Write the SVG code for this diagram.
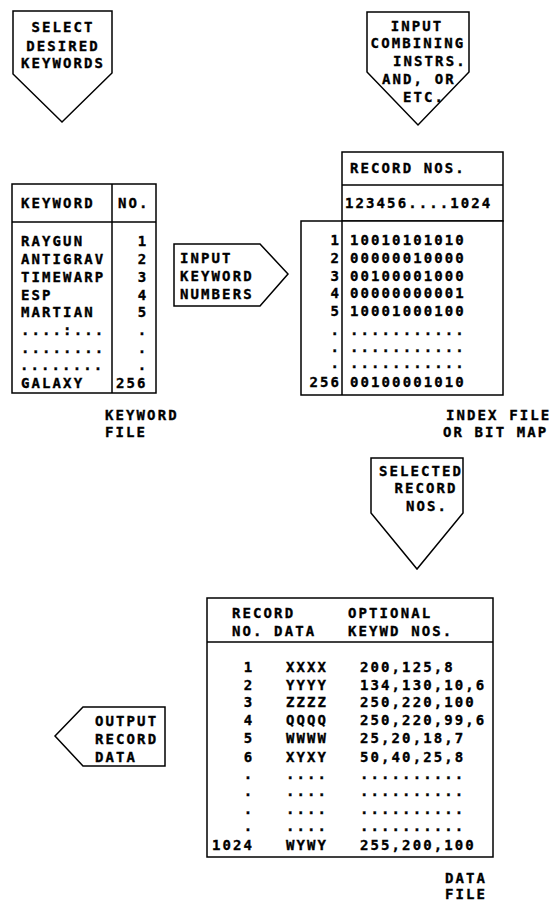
<svg xmlns="http://www.w3.org/2000/svg" width="551" height="903" viewBox="0 0 551 903">
<style>
.t{font-family:"DejaVu Sans Mono","Liberation Mono",monospace;font-weight:bold;font-size:14px;letter-spacing:2.1px;fill:#000;stroke:#000;stroke-width:0.35px}
.m{text-anchor:middle}
.e{text-anchor:end}
.s{fill:#fff;stroke:#000;stroke-width:1.5;stroke-linejoin:miter}
.l{fill:none;stroke:#000;stroke-width:1.5}
</style>
<rect width="551" height="903" fill="#fff"/>

<g id="select-keywords">
<polygon class="s" points="13,11 112,11 112,73 62,122 13,74"/>
<text class="t m" x="63" y="32">SELECT</text>
<text class="t m" x="63" y="51">DESIRED</text>
<text class="t m" x="63" y="68">KEYWORDS</text>
</g>

<g id="input-combining">
<polygon class="s" points="367,12 469,12 469,72 418,125 367,72"/>
<text class="t m" x="417" y="31">INPUT</text>
<text class="t m" x="418" y="48">COMBINING</text>
<text class="t" x="393" y="66">INSTRS.</text>
<text class="t" x="382" y="84">AND, OR</text>
<text class="t" x="403" y="102">ETC.</text>
</g>

<g id="keyword-file">
<rect class="s" x="12" y="184" width="144" height="209"/>
<line class="l" x1="112" y1="184" x2="112" y2="393"/>
<line class="l" x1="12" y1="222" x2="156" y2="222"/>
<text class="t" x="21" y="208">KEYWORD</text>
<text class="t" x="118" y="208">NO.</text>
<text class="t" x="21" y="246">RAYGUN</text>
<text class="t" x="21" y="264">ANTIGRAV</text>
<text class="t" x="21" y="282">TIMEWARP</text>
<text class="t" x="21" y="300">ESP</text>
<text class="t" x="21" y="317">MARTIAN</text>
<text class="t" x="21" y="335">....:...</text>
<text class="t" x="21" y="353">........</text>
<text class="t" x="20" y="370">........</text>
<text class="t" x="21" y="388">GALAXY</text>
<text class="t m" x="143" y="246">1</text>
<text class="t m" x="143" y="264">2</text>
<text class="t m" x="143" y="282">3</text>
<text class="t m" x="143" y="300">4</text>
<text class="t m" x="143" y="317">5</text>
<text class="t m" x="143" y="335">.</text>
<text class="t m" x="143" y="353">.</text>
<text class="t m" x="143" y="370">.</text>
<text class="t" x="116" y="388">256</text>
<text class="t" x="105" y="420">KEYWORD</text>
<text class="t" x="105" y="437">FILE</text>
</g>

<g id="input-keyword-numbers">
<polygon class="s" points="174,244 260,244 288,274 260,306 174,306"/>
<text class="t" x="180" y="263">INPUT</text>
<text class="t" x="180" y="281">KEYWORD</text>
<text class="t" x="180" y="299">NUMBERS</text>
</g>

<g id="index-file">
<rect class="s" x="342" y="152" width="161" height="69"/>
<line class="l" x1="342" y1="185" x2="503" y2="185"/>
<rect class="s" x="301" y="221" width="202" height="174"/>
<line class="l" x1="342" y1="221" x2="342" y2="395"/>
<text class="t" x="350" y="173">RECORD NOS.</text>
<text class="t" x="345" y="208">123456....1024</text>
<text class="t e" x="341" y="245">1</text>
<text class="t e" x="341" y="263">2</text>
<text class="t e" x="341" y="281">3</text>
<text class="t e" x="341" y="298">4</text>
<text class="t e" x="341" y="316">5</text>
<text class="t e" x="341" y="335">.</text>
<text class="t e" x="341" y="352">.</text>
<text class="t e" x="341" y="368">.</text>
<text class="t e" x="341" y="387">256</text>
<text class="t" x="350" y="245">10010101010</text>
<text class="t" x="350" y="263">00000010000</text>
<text class="t" x="350" y="281">00100001000</text>
<text class="t" x="350" y="298">00000000001</text>
<text class="t" x="350" y="316">10001000100</text>
<text class="t" x="350" y="335">...........</text>
<text class="t" x="350" y="352">...........</text>
<text class="t" x="350" y="368">...........</text>
<text class="t" x="350" y="387">00100001010</text>
<text class="t" x="446" y="420">INDEX FILE</text>
<text class="t" x="443" y="437">OR BIT MAP</text>
</g>

<g id="selected-record-nos">
<polygon class="s" points="371,458 463,458 463,513 417,569 371,513"/>
<text class="t m" x="421" y="476">SELECTED</text>
<text class="t m" x="426" y="493">RECORD</text>
<text class="t m" x="427" y="511">NOS.</text>
</g>

<g id="data-file">
<rect class="s" x="207" y="598" width="286" height="259"/>
<line class="l" x1="207" y1="642" x2="493" y2="642"/>
<text class="t" x="232" y="618">RECORD</text>
<text class="t" x="348" y="618">OPTIONAL</text>
<text class="t" x="232" y="636">NO. DATA</text>
<text class="t" x="348" y="636">KEYWD NOS.</text>
<g class="t m">
<text x="249" y="672">1</text>
<text x="249" y="690">2</text>
<text x="249" y="707">3</text>
<text x="249" y="725">4</text>
<text x="249" y="743">5</text>
<text x="249" y="762">6</text>
<text x="249" y="779">.</text>
<text x="249" y="796">.</text>
<text x="249" y="814">.</text>
<text x="249" y="831">.</text>
<text x="307" y="672">XXXX</text>
<text x="307" y="690">YYYY</text>
<text x="307" y="707">ZZZZ</text>
<text x="307" y="725">QQQQ</text>
<text x="307" y="743">WWWW</text>
<text x="307" y="762">XYXY</text>
<text x="307" y="779">....</text>
<text x="307" y="796">....</text>
<text x="307" y="814">....</text>
<text x="307" y="831">....</text>
<text x="307" y="850">WYWY</text>
</g>
<text class="t" x="212" y="850">1024</text>
<text class="t" x="360" y="672">200,125,8</text>
<text class="t" x="360" y="690">134,130,10,6</text>
<text class="t" x="360" y="707">250,220,100</text>
<text class="t" x="360" y="725">250,220,99,6</text>
<text class="t" x="360" y="743">25,20,18,7</text>
<text class="t" x="360" y="762">50,40,25,8</text>
<text class="t" x="360" y="779">..........</text>
<text class="t" x="360" y="796">..........</text>
<text class="t" x="360" y="814">..........</text>
<text class="t" x="360" y="831">..........</text>
<text class="t" x="360" y="850">255,200,100</text>
<text class="t" x="445" y="883">DATA</text>
<text class="t" x="445" y="899">FILE</text>
</g>

<g id="output-record-data">
<polygon class="s" points="165,707 83,707 55,736 83,766 165,766"/>
<text class="t" x="95" y="726">OUTPUT</text>
<text class="t" x="95" y="744">RECORD</text>
<text class="t" x="95" y="762">DATA</text>
</g>

<g id="connectors"></g>
</svg>
